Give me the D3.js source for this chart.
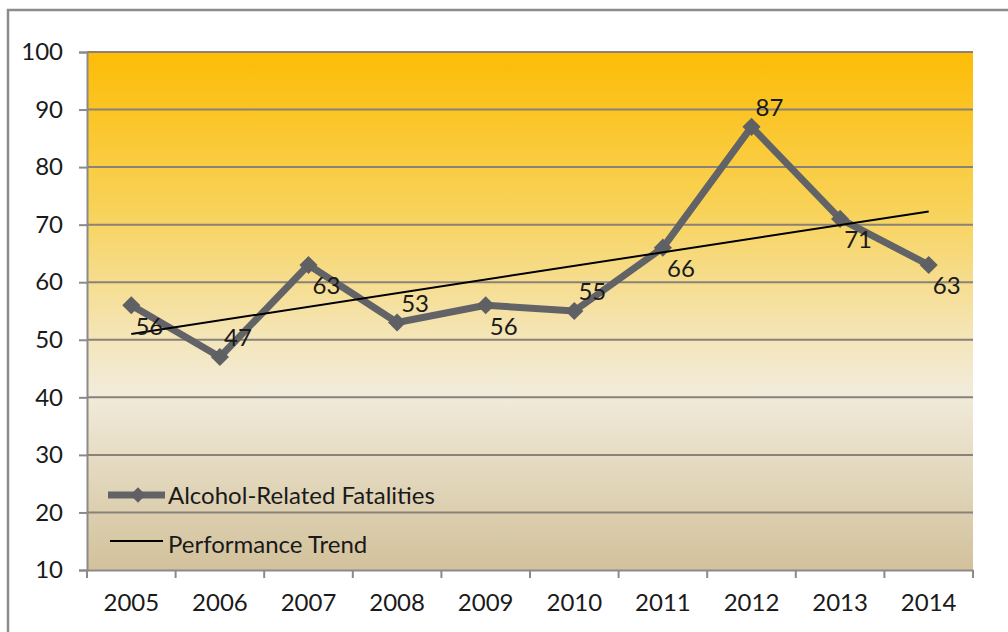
<!DOCTYPE html>
<html>
<head>
<meta charset="utf-8">
<script src="https://cdn.jsdelivr.net/npm/d3@7"></script>
<style>
  body { margin: 0; background: #fff; }
  text { font-family: Lato, "Open Sans", sans-serif; fill: #1a1a1a; }
</style>
</head>
<body>
<div id="graph"></div>
<script>
// chart data
var years = ["2005", "2006", "2007", "2008", "2009", "2010", "2011", "2012", "2013", "2014"];
var fatalities = [56, 47, 63, 53, 56, 55, 66, 87, 71, 63];
var labelSide = ["below", "above", "below", "above", "below", "above", "below", "above", "below", "below"];
var trendEnds = [51.0, 72.3]; // first and last year
var yTicks = [10, 20, 30, 40, 50, 60, 70, 80, 90, 100];

var w = 1008, h = 632;
var margin = {top: 52, right: 35, bottom: 62, left: 87};
var fontSize = "24px";

var svg = d3.select("#graph").append("svg")
  .attr("width", w)
  .attr("height", h);

// outer frame
svg.append("rect")
  .attr("x", 8).attr("y", 10)
  .attr("width", 1100).attr("height", 700)
  .attr("fill", "#fff")
  .attr("stroke", "#8c8c8c")
  .attr("stroke-width", 2.5);

var x = d3.scaleBand()
  .domain(years)
  .range([margin.left, w - margin.right]);

var y = d3.scaleLinear()
  .domain([10, 100])
  .range([h - margin.bottom, margin.top]);

// background gradient
var defs = svg.append("defs");
var grad = defs.append("linearGradient")
  .attr("id", "bg")
  .attr("x1", 0).attr("y1", 0).attr("x2", 0).attr("y2", 1);
grad.append("stop").attr("offset", "0%").attr("stop-color", "#fdbc06");
grad.append("stop").attr("offset", "30%").attr("stop-color", "#f8d257");
grad.append("stop").attr("offset", "56%").attr("stop-color", "#f4e6bc");
grad.append("stop").attr("offset", "66%").attr("stop-color", "#f1ebda");
grad.append("stop").attr("offset", "100%").attr("stop-color", "#d2c19b");

svg.append("rect")
  .attr("x", x.range()[0])
  .attr("y", y(100))
  .attr("width", x.range()[1] - x.range()[0])
  .attr("height", y(10) - y(100))
  .attr("fill", "url(#bg)");

// gridlines
svg.append("g")
  .selectAll("line")
  .data(yTicks.filter(function(d) { return d > 10; }))
  .enter().append("line")
  .attr("x1", x.range()[0])
  .attr("x2", x.range()[1])
  .attr("y1", function(d) { return y(d); })
  .attr("y2", function(d) { return y(d); })
  .attr("stroke", "#8a8178")
  .attr("stroke-width", 2);

// y axis
var yAxis = svg.append("g")
  .attr("transform", "translate(" + x.range()[0] + ",0)")
  .call(d3.axisLeft(y).tickValues(yTicks).tickSize(8).tickPadding(16));
yAxis.select(".domain").attr("stroke", "#8a8a8a").attr("stroke-width", 2);
yAxis.selectAll(".tick line").attr("stroke", "#8a8a8a").attr("stroke-width", 2);
yAxis.selectAll("text").style("font-size", fontSize).attr("fill", "#1a1a1a");

// x axis with ticks between categories
var xAxis = svg.append("g")
  .attr("transform", "translate(0," + y(10) + ")")
  .call(d3.axisBottom(x).tickSize(0).tickPadding(24));
xAxis.select(".domain").attr("stroke", "#8a8a8a").attr("stroke-width", 2);
xAxis.selectAll("text").style("font-size", fontSize).attr("fill", "#1a1a1a");
xAxis.selectAll(".sep")
  .data(years.concat(["end"]))
  .enter().append("line")
  .attr("class", "sep")
  .attr("x1", function(d, i) { return x.range()[0] + i * x.bandwidth(); })
  .attr("x2", function(d, i) { return x.range()[0] + i * x.bandwidth(); })
  .attr("y1", 0).attr("y2", 8)
  .attr("stroke", "#8a8a8a").attr("stroke-width", 2);

var cx = function(i) { return x(years[i]) + x.bandwidth() / 2; };

// data line
var line = d3.line()
  .x(function(d, i) { return cx(i); })
  .y(function(d) { return y(d); });

svg.append("path")
  .datum(fatalities)
  .attr("d", line)
  .attr("fill", "none")
  .attr("stroke", "#626366")
  .attr("stroke-width", 7)
  .attr("stroke-linejoin", "round");

var diamond = d3.symbol().type(d3.symbolDiamond2).size(210);

svg.append("g")
  .selectAll("path")
  .data(fatalities)
  .enter().append("path")
  .attr("d", diamond)
  .attr("transform", function(d, i) { return "translate(" + cx(i) + "," + y(d) + ")"; })
  .attr("fill", "#5f6064");

// trend line
svg.append("line")
  .attr("x1", cx(0)).attr("y1", y(trendEnds[0]))
  .attr("x2", cx(years.length - 1)).attr("y2", y(trendEnds[1]))
  .attr("stroke", "#000")
  .attr("stroke-width", 2);

// data labels
svg.append("g")
  .selectAll("text")
  .data(fatalities)
  .enter().append("text")
  .attr("x", function(d, i) { return cx(i) + 18; })
  .attr("y", function(d, i) { return y(d) + (labelSide[i] === "above" ? -19 : 21); })
  .attr("dy", "0.35em")
  .attr("text-anchor", "middle")
  .style("font-size", fontSize)
  .text(function(d) { return d; });

// legend
var legend = svg.append("g").attr("transform", "translate(108,495)");
legend.append("line")
  .attr("x1", 0).attr("x2", 57).attr("y1", 0).attr("y2", 0)
  .attr("stroke", "#626366").attr("stroke-width", 7);
legend.append("path")
  .attr("d", d3.symbol().type(d3.symbolDiamond2).size(150))
  .attr("transform", "translate(30,0)")
  .attr("fill", "#5f6064");
legend.append("text")
  .attr("x", 60).attr("y", 1).attr("dy", "0.35em")
  .style("font-size", fontSize)
  .text("Alcohol-Related Fatalities");
legend.append("line")
  .attr("x1", 2).attr("x2", 55).attr("y1", 46).attr("y2", 46)
  .attr("stroke", "#000").attr("stroke-width", 2);
legend.append("text")
  .attr("x", 60).attr("y", 50).attr("dy", "0.35em")
  .style("font-size", fontSize)
  .text("Performance Trend");
</script>
</body>
</html>
